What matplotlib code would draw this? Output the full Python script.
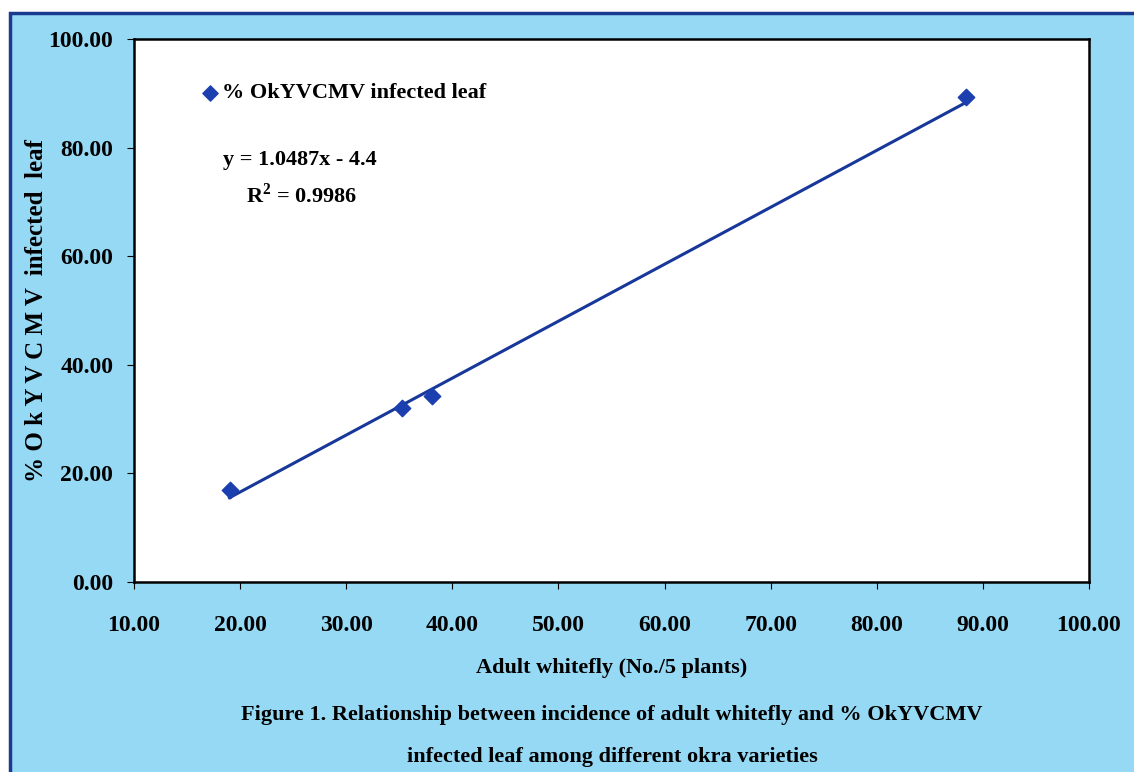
import numpy as np
import matplotlib
matplotlib.use('Agg')
from matplotlib import pyplot as plt
from matplotlib.patches import Rectangle

# data
whitefly = [19.0, 35.3, 38.1, 88.4]        # Adult whitefly (No./5 plants)
infected = [17.0, 32.0, 34.3, 89.3]        # % OkYVCMV infected leaf
slope, intercept, r2 = 1.0487, -4.4, 0.9986
xticks = [10, 20, 30, 40, 50, 60, 70, 80, 90, 100]
yticks = [0, 20, 40, 60, 80, 100]

bg = '#96d9f5'
font = ['Liberation Serif', 'DejaVu Serif']
plt.rcParams['font.family'] = font
plt.rcParams['font.weight'] = 'bold'

fig = plt.figure(figsize=(11.34, 7.72), dpi=100)
fig.patch.set_facecolor('white')
# outer light-blue frame
fig.patches.append(Rectangle((10/1134, -0.02), 1.05, 0.983 + 0.02, transform=fig.transFigure,
                             facecolor=bg, edgecolor='#1a3a8f', linewidth=2.5, zorder=-5))

ax = fig.add_axes([134/1134, 1 - 582/772, (1089-134)/1134, (582-39)/772])
ax.set_facecolor('white')

# trend line
xs = np.array([min(whitefly), max(whitefly)])
ax.plot(xs, slope*xs + intercept, color='#17379a', lw=2.2, zorder=2)
ax.scatter(whitefly, infected, marker='D', s=70, color='#1c3fb0', zorder=3)

ax.set_xlim(10, 100)
ax.set_ylim(0, 100)
ax.set_xticks(xticks)
ax.set_yticks(yticks)
ax.set_xticklabels(['%.2f' % v for v in xticks])
ax.set_yticklabels(['%.2f' % v for v in yticks])
ax.tick_params(axis='x', direction='out', length=5, width=0.8, pad=19, labelsize=17)
ax.tick_params(axis='y', direction='out', length=5, width=0.8, pad=10, labelsize=17)
for s in ax.spines.values():
    s.set_linewidth(1.8)
    s.set_color('black')

ax.set_ylabel('% O k Y V C M V  infected  leaf', fontsize=18, fontweight='bold', labelpad=0)

# legend-like entry and equation
ax.scatter([17.2], [90.0], marker='D', s=60, color='#1c3fb0', clip_on=False)
ax.text(18.3, 90.0, '% OkYVCMV infected leaf', fontsize=16, va='center', ha='left')
ax.text(25.6, 77.8, 'y = %.4fx - %.1f' % (slope, -intercept), fontsize=16, ha='center', va='center')
ax.text(25.8, 71.2, 'R$^\\mathregular{2}$ = %.4f' % r2, fontsize=16, ha='center', va='center')

fig.text(612/1134, 1 - 668/772, 'Adult whitefly (No./5 plants)', fontsize=16, ha='center', va='center')
fig.text(612/1134, 1 - 715/772, 'Figure 1. Relationship between incidence of adult whitefly and % OkYVCMV',
         fontsize=16, ha='center', va='center')
fig.text(612/1134, 1 - 757/772, 'infected leaf among different okra varieties',
         fontsize=16, ha='center', va='center')

fig.savefig('out.png', dpi=100, facecolor=fig.get_facecolor())
